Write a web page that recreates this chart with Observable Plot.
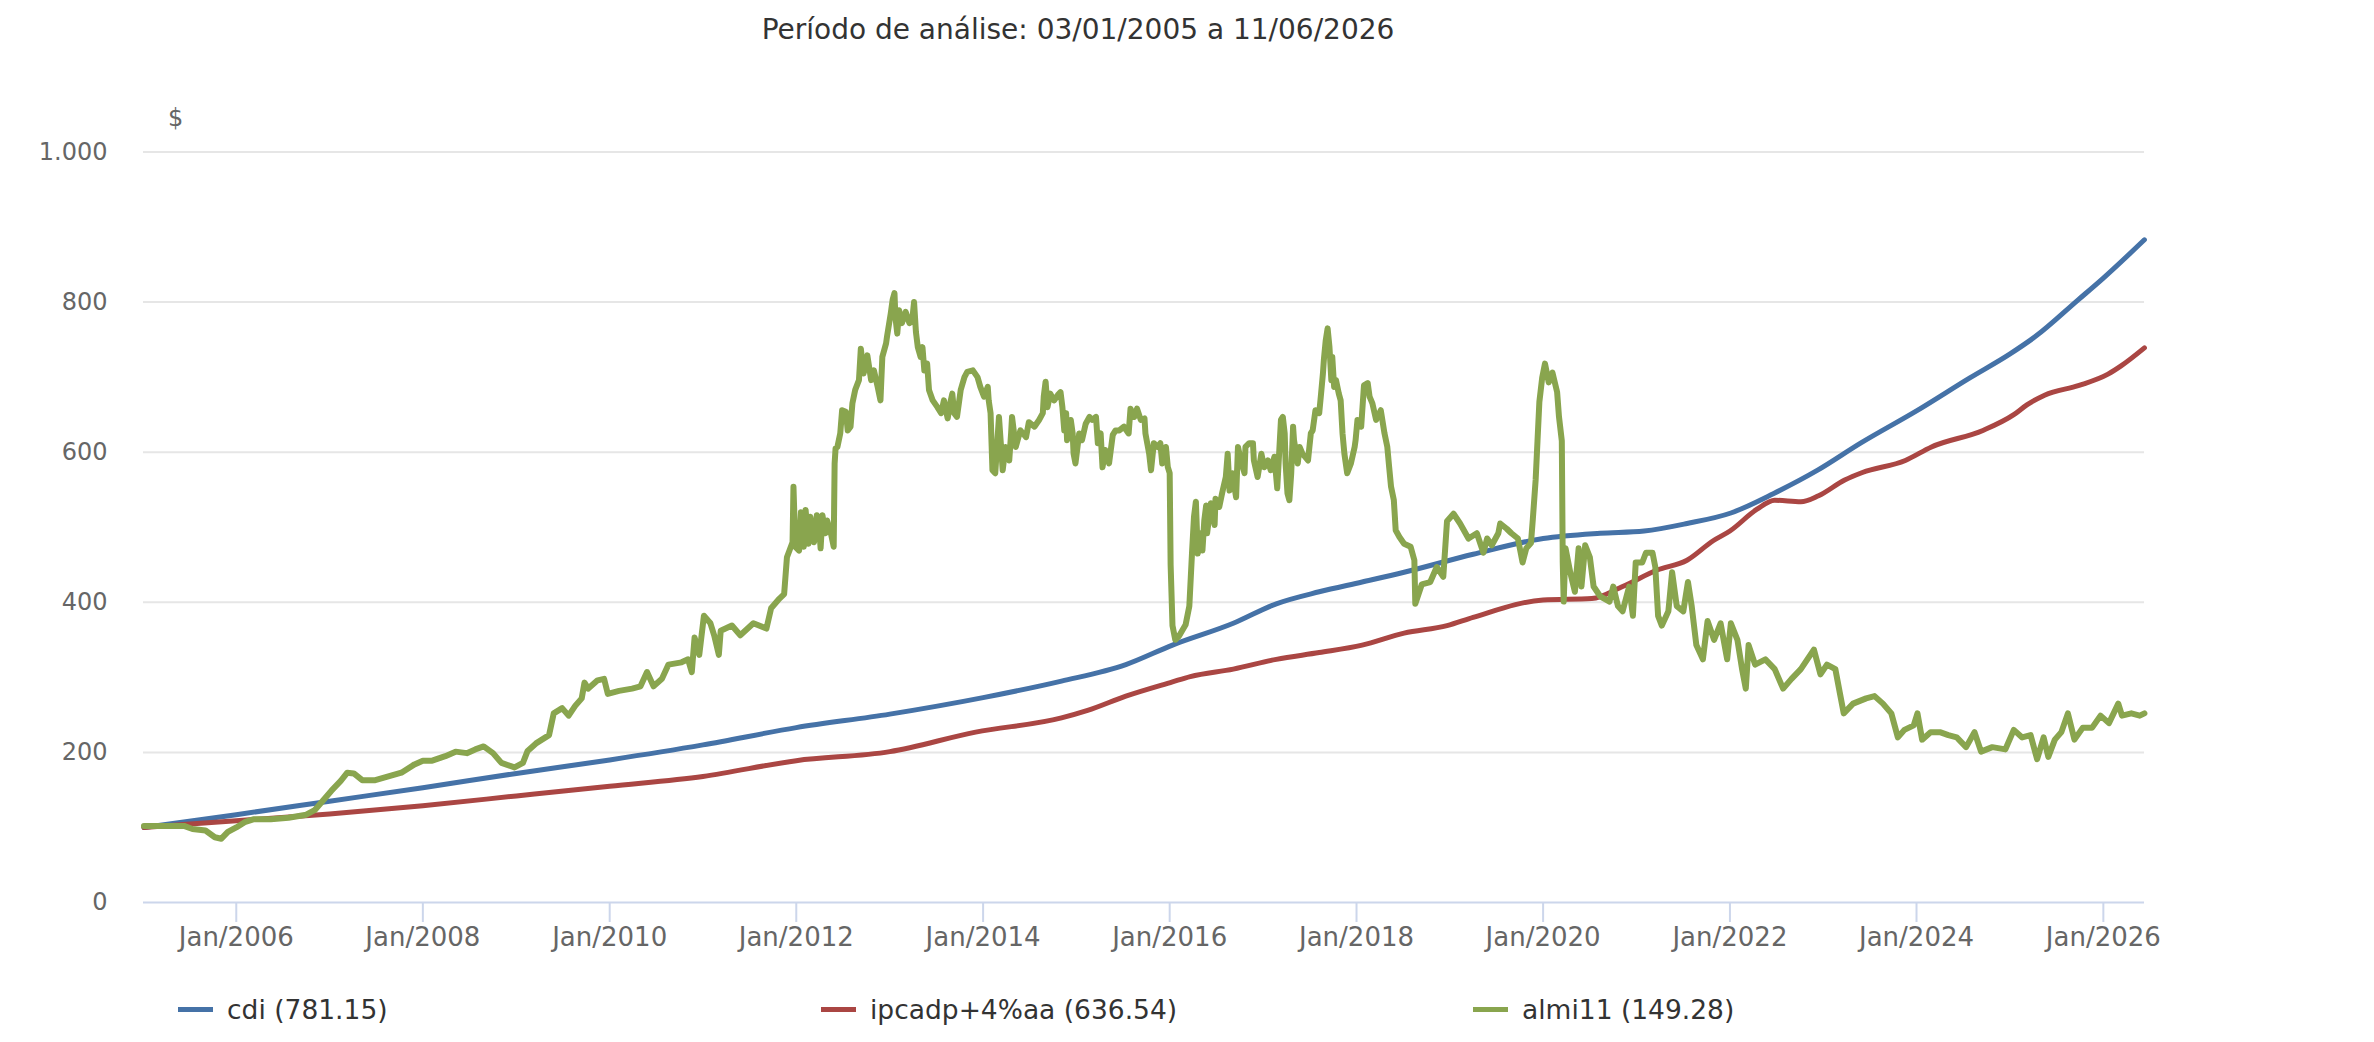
<!DOCTYPE html>
<html>
<head>
<meta charset="utf-8">
<script src="https://cdn.jsdelivr.net/npm/d3@7"></script>
<script src="https://cdn.jsdelivr.net/npm/@observablehq/plot@0.6"></script>
<style>
  html, body { margin: 0; padding: 0; background: #fff; }
  body { width: 2374px; height: 1042px; position: relative; overflow: hidden; font-family: "DejaVu Sans", sans-serif; }
  #title { position: absolute; left: 0; top: 0; width: 2156px; height: 60px; line-height: 60px; text-align: center; font-size: 28px; color: #333; z-index: 2; }
  #unit { position: absolute; left: 168px; top: 100px; height: 36px; line-height: 36px; font-size: 24px; color: #666; z-index: 2; }
  #chart { position: absolute; left: 0; top: 60px; z-index: 1; }
  .leg { position: absolute; top: 989px; height: 40px; display: flex; align-items: center; font-size: 26.5px; color: #333; white-space: nowrap; z-index: 2; }
  .sw { width: 35px; height: 5px; margin-right: 14px; }
</style>
</head>
<body>
<div id="title">Período de análise: 03/01/2005 a 11/06/2026</div>
<div id="chart"></div>
<div id="unit">$</div>
<div id="legend"></div>
<script>
// ---- data: [decimal year, value in $] ----
const seriesNames = ["cdi", "ipcadp+4%aa", "almi11"];
const seriesLabels = ["cdi (781.15)", "ipcadp+4%aa (636.54)", "almi11 (149.28)"];
const seriesColors = ["#4572A7", "#AA4643", "#89A54E"];
const legendLeft = [178, 821, 1473];

const yTicks = [0, 200, 400, 600, 800, 1000];
const xTickYears = [2006, 2008, 2010, 2012, 2014, 2016, 2018, 2020, 2022, 2024, 2026];

const cdiPoints = [[2005.01,100],[2006.0,117],[2007.0,135],[2008.0,153],[2009.0,172],[2010.0,190],[2011.0,210],[2012.0,233],[2013.0,251],[2014.0,273],[2014.84,295],[2015.53,317],[2016.03,343],[2016.68,372],[2017.14,398],[2017.6,414],[2018.06,427],[2018.51,440],[2019.25,464],[2020.0,485],[2020.61,492],[2021.08,495],[2021.54,505],[2022.01,519],[2022.47,545],[2022.94,576],[2023.40,612],[2024.0,655],[2024.57,699],[2025.0,731],[2025.27,754],[2025.73,803],[2026.0,832],[2026.44,883]];

const ipcaPoints = [[2005.01,100],[2006.0,109],[2007.0,118],[2008.0,129],[2009.0,142],[2010.0,155],[2011.0,168],[2012.0,189],[2013.0,201],[2013.92,227],[2014.84,246],[2015.12,256],[2015.53,275],[2016.03,294],[2016.22,301],[2016.68,311],[2017.14,324],[2017.6,333],[2018.06,343],[2018.51,359],[2018.97,369],[2019.25,380],[2020.0,403],[2020.52,405],[2020.85,421],[2021.22,443],[2021.54,456],[2021.82,482],[2022.0,495],[2022.29,524],[2022.48,536],[2022.76,534],[2022.95,542],[2023.23,563],[2023.42,573],[2023.88,589],[2024.16,607],[2024.71,629],[2025.04,650],[2025.18,663],[2025.37,676],[2025.74,689],[2026.05,704],[2026.19,715],[2026.44,739]];

const almiPoints = [
  [2005.01,102],[2005.44,102],[2005.53,98],[2005.67,96],[2005.77,87],[2005.84,85],[2005.91,94],[2006.00,100],[2006.09,107],[2006.19,111],
  [2006.37,111],[2006.56,113],[2006.75,117],[2006.84,123],[2006.93,136],[2007.02,149],[2007.12,162],[2007.19,173],[2007.26,172],[2007.35,163],
  [2007.49,163],[2007.63,168],[2007.77,173],[2007.91,184],[2008.00,189],[2008.10,189],[2008.24,195],[2008.35,201],[2008.47,199],[2008.56,204],
  [2008.65,208],[2008.75,199],[2008.84,186],[2008.98,180],[2009.07,186],[2009.12,202],[2009.21,212],[2009.35,223],[2009.40,252],[2009.49,259],
  [2009.56,249],[2009.63,262],[2009.70,272],[2009.73,293],[2009.77,285],[2009.87,296],[2009.94,298],[2009.98,278],[2010.10,282],[2010.24,285],
  [2010.33,288],[2010.40,307],[2010.47,288],[2010.56,298],[2010.63,317],[2010.77,320],[2010.84,324],[2010.88,307],[2010.91,353],[2010.96,330],
  [2011.01,382],[2011.08,372],[2011.12,356],[2011.17,330],[2011.19,362],[2011.31,369],[2011.40,356],[2011.54,372],[2011.68,365],[2011.73,392],
  [2011.82,405],[2011.87,411],
  [2011.90,460],[2011.96,480],[2011.97,554],[2011.99,474],[2012.03,469],[2012.05,520],[2012.08,474],[2012.10,523],[2012.13,478],[2012.15,514],
  [2012.19,480],[2012.22,516],[2012.24,509],[2012.26,472],[2012.28,516],[2012.31,492],[2012.33,509],[2012.37,492],[2012.40,474],[2012.41,585],
  [2012.42,605],[2012.44,607],[2012.47,625],[2012.49,656],[2012.53,654],[2012.55,629],[2012.58,634],[2012.60,665],[2012.63,683],[2012.67,696],
  [2012.69,738],[2012.72,705],[2012.76,729],[2012.80,696],[2012.83,709],[2012.87,687],[2012.90,669],[2012.92,727],[2012.96,745],[2012.97,754],
  [2013.01,785],[2013.03,803],[2013.05,812],[2013.06,780],[2013.08,758],[2013.10,789],[2013.13,772],[2013.17,787],[2013.21,772],[2013.24,776],
  [2013.26,800],[2013.28,760],[2013.30,740],[2013.33,727],[2013.35,740],[2013.37,709],[2013.40,718],[2013.42,683],[2013.46,669],[2013.51,660],
  [2013.55,652],[2013.58,669],[2013.62,645],[2013.65,667],[2013.67,678],[2013.69,652],[2013.72,647],[2013.76,683],[2013.80,700],[2013.83,707],
  [2013.89,709],[2013.94,700],[2013.97,687],[2014.01,674],[2014.05,687],[2014.06,669],[2014.08,652],[2014.10,576],[2014.13,572],[2014.17,647],
  [2014.21,576],[2014.24,607],[2014.28,589],[2014.30,625],[2014.31,647],[2014.35,607],[2014.39,625],[2014.40,629],[2014.46,620],[2014.49,640],
  [2014.55,634],[2014.60,643],[2014.64,652],[2014.65,674],[2014.67,694],[2014.69,660],[2014.72,678],[2014.76,669],[2014.80,676],[2014.83,680],
  [2014.85,660],[2014.87,629],[2014.89,652],[2014.90,616],[2014.94,643],[2014.96,625],[2014.97,598],[2014.99,585],[2015.03,625],[2015.06,616],
  [2015.10,638],[2015.14,647],[2015.17,643],[2015.21,647],[2015.23,612],[2015.26,625],[2015.28,580],[2015.31,603],[2015.35,585],[2015.39,623],
  [2015.42,629],[2015.46,629],[2015.51,634],[2015.56,625],[2015.58,658],[2015.62,647],[2015.65,658],[2015.69,643],[2015.73,645],[2015.74,625],
  [2015.78,598],[2015.80,576],[2015.83,612],[2015.87,607],[2015.90,612],[2015.92,585],[2015.96,607],[2015.98,580],[2016.00,572],[2016.01,450],
  [2016.03,369],[2016.06,350],[2016.10,355],[2016.17,370],[2016.21,395],[2016.24,469],[2016.26,514],[2016.28,534],[2016.30,465],[2016.33,492],
  [2016.35,469],[2016.37,509],[2016.39,529],[2016.40,492],[2016.44,532],[2016.48,503],[2016.49,538],[2016.53,527],[2016.56,545],[2016.60,567],
  [2016.62,598],[2016.64,549],[2016.67,572],[2016.71,540],[2016.73,607],[2016.76,589],[2016.80,572],[2016.81,607],[2016.85,612],[2016.89,612],
  [2016.90,589],[2016.94,567],[2016.98,598],[2017.01,580],[2017.05,589],[2017.08,576],[2017.12,594],[2017.15,552],[2017.19,643],[2017.21,647],
  [2017.23,625],[2017.24,585],[2017.26,545],[2017.28,536],[2017.30,572],[2017.32,634],[2017.33,616],[2017.37,585],[2017.39,607],[2017.42,598],
  [2017.48,589],[2017.51,625],[2017.53,629],[2017.56,656],[2017.60,652],[2017.62,678],[2017.64,705],[2017.65,723],[2017.67,749],[2017.69,765],
  [2017.71,740],[2017.73,696],[2017.74,727],[2017.76,687],[2017.78,696],[2017.81,678],[2017.83,669],[2017.85,625],[2017.87,598],[2017.90,572],
  [2017.94,585],[2017.98,607],[2017.99,616],[2018.01,643],[2018.05,634],[2018.08,689],[2018.12,692],[2018.14,674],[2018.17,665],[2018.21,643],
  [2018.26,656],[2018.30,625],[2018.33,607],[2018.35,580],[2018.37,554],[2018.40,536],[2018.42,496],[2018.46,487],[2018.51,478],[2018.58,474],
  [2018.62,456],
  [2018.63,398],[2018.70,424],[2018.79,427],[2018.86,447],[2018.93,434],[2018.97,508],[2019.04,518],[2019.11,505],[2019.20,485],[2019.29,492],
  [2019.36,466],[2019.40,485],[2019.45,476],[2019.52,492],[2019.54,505],[2019.61,498],[2019.66,492],[2019.73,485],[2019.78,453],[2019.82,472],
  [2019.87,479],[2019.89,511],[2019.92,563],[2019.94,615],[2019.96,667],[2019.99,699],[2020.02,718],[2020.06,693],[2020.10,706],[2020.15,680],
  [2020.17,647],[2020.20,615],[2020.21,453],[2020.22,401],[2020.24,472],[2020.29,440],[2020.34,414],[2020.38,472],[2020.41,421],[2020.45,476],
  [2020.50,460],[2020.54,421],[2020.61,408],[2020.71,401],[2020.75,421],[2020.80,395],[2020.85,388],[2020.92,421],[2020.96,382],[2020.99,453],
  [2021.06,453],[2021.10,466],[2021.17,466],[2021.20,447],[2021.23,382],[2021.27,369],[2021.34,388],[2021.38,440],[2021.43,395],[2021.50,388],
  [2021.55,427],[2021.59,395],[2021.64,343],[2021.71,324],[2021.76,375],[2021.83,350],[2021.90,372],[2021.97,324],[2022.01,372],[2022.08,350],
  [2022.13,311],[2022.17,285],[2022.20,343],[2022.27,317],[2022.38,324],[2022.48,311],[2022.57,285],[2022.66,298],[2022.76,311],[2022.90,337],
  [2022.97,304],[2023.04,317],[2023.13,311],[2023.18,278],[2023.22,252],[2023.32,265],[2023.46,272],[2023.55,275],[2023.64,265],[2023.73,252],
  [2023.80,220],[2023.87,230],[2023.97,236],[2024.01,252],[2024.06,217],[2024.15,227],[2024.25,227],[2024.34,223],[2024.43,220],[2024.53,207],
  [2024.62,227],[2024.69,201],[2024.81,207],[2024.95,204],[2025.04,230],[2025.13,220],[2025.22,223],[2025.29,191],[2025.36,220],[2025.41,194],
  [2025.48,217],[2025.55,227],[2025.62,252],[2025.69,217],[2025.78,233],[2025.88,233],[2025.97,249],[2026.06,239],[2026.16,265],[2026.20,249],
  [2026.30,252],[2026.39,249],[2026.44,252]
];

// ---- helpers ----
function yearToDate(y) {
  const yr = Math.floor(y);
  const s = Date.UTC(yr, 0, 1), e = Date.UTC(yr + 1, 0, 1);
  return new Date(s + (y - yr) * (e - s));
}
function rows(points) {
  return points.map(([y, v]) => ({date: yearToDate(y), value: v}));
}
const seriesData = [rows(cdiPoints), rows(ipcaPoints), rows(almiPoints)];
const seriesWidths = [5, 5, 6];
const seriesCurves = ["monotone-x", "monotone-x", "linear"];
const xTicks = xTickYears.map(y => new Date(Date.UTC(y, 0, 1)));
const fmtNum = d3.formatLocale({decimal: ",", thousands: ".", grouping: [3], currency: ["", ""]}).format(",");

const chart = Plot.plot({
  width: 2374,
  height: 900,
  marginTop: 91.5,
  marginBottom: 58,
  marginLeft: 143,
  marginRight: 230,
  style: {fontFamily: "DejaVu Sans, sans-serif", fontSize: "24px", background: "transparent", overflow: "visible"},
  x: {type: "utc", domain: [new Date(Date.UTC(2005, 0, 3)), new Date(Date.UTC(2026, 5, 11))]},
  y: {domain: [0, 1000]},
  marks: [
    Plot.gridY(yTicks.filter(d => d > 0), {stroke: "#e6e6e6", strokeWidth: 2, strokeOpacity: 1}),
    Plot.ruleY([0], {stroke: "#ccd6eb", strokeWidth: 2}),
    Plot.axisY(yTicks, {tickSize: 0, tickPadding: 36, fill: "#666", fontSize: 24, textAnchor: "end", tickFormat: fmtNum, label: null}),
    Plot.axisX(xTicks, {tickSize: 20, tickPadding: 5, stroke: "#ccd6eb", strokeWidth: 2, fill: "#666", fontSize: 26, tickFormat: d => "Jan/" + d.getUTCFullYear(), label: null}),
    ...seriesData.map((data, i) => Plot.line(data, {x: "date", y: "value", stroke: seriesColors[i], strokeWidth: seriesWidths[i], curve: seriesCurves[i], strokeLinejoin: "round", strokeLinecap: "round"}))
  ]
});
document.getElementById("chart").appendChild(chart);

const legend = document.getElementById("legend");
seriesLabels.forEach((lab, i) => {
  const item = document.createElement("div");
  item.className = "leg";
  item.style.left = legendLeft[i] + "px";
  const sw = document.createElement("span");
  sw.className = "sw";
  sw.style.background = seriesColors[i];
  const tx = document.createElement("span");
  tx.textContent = lab;
  item.appendChild(sw);
  item.appendChild(tx);
  legend.appendChild(item);
});
</script>
</body>
</html>
